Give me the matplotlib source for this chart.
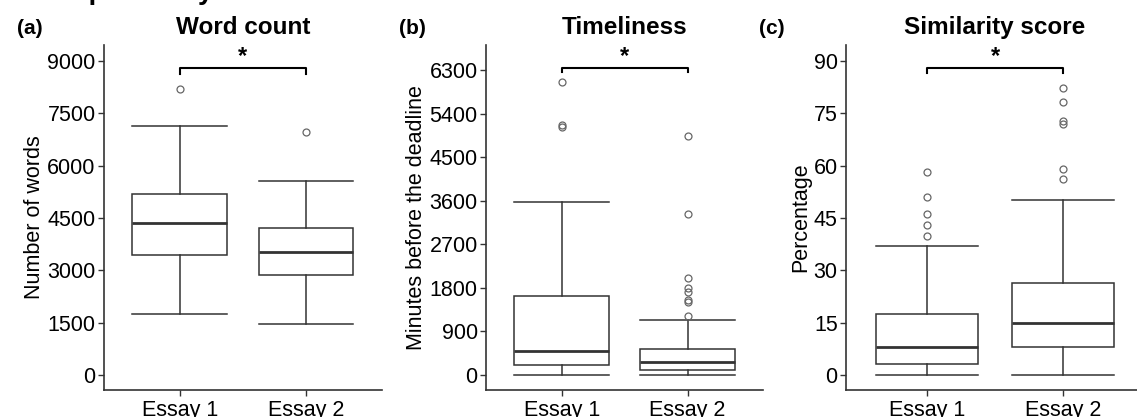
import matplotlib
matplotlib.use("Agg")
import matplotlib.pyplot as plt

plt.rcParams['font.family'] = ['Liberation Sans', 'DejaVu Sans']

groups = ["Essay 1", "Essay 2"]

# five-number summaries: low whisker, Q1, median, Q3, high whisker
words_stats = [[1750, 3450, 4350, 5190, 7140], [1450, 2860, 3520, 4220, 5550]]
words_fliers = [[8210], [6970]]

time_stats = [[0, 207, 496, 1632, 3580], [0, 103, 275, 543, 1136]]
time_fliers = [[5130, 5160, 6060], [1219, 1510, 1540, 1721, 1804, 2010, 3326, 4937]]

sim_stats = [[0, 3.2, 8.0, 17.4, 37.0], [0, 8.1, 15.0, 26.3, 50.1]]
sim_fliers = [[39.9, 43.0, 46.1, 50.9, 58.1], [56.1, 59.0, 72.0, 72.8, 78.2, 82.2]]

panels = [
    ("(a)", "Word count", "Number of words", words_stats, words_fliers,
     [0, 1500, 3000, 4500, 6000, 7500, 9000], (-430, 9460), (8629, 8800)),
    ("(b)", "Timeliness", "Minutes before the deadline", time_stats, time_fliers,
     [0, 900, 1800, 2700, 3600, 4500, 5400, 6300], (-310, 6816), (6250, 6345)),
    ("(c)", "Similarity score", "Percentage", sim_stats, sim_fliers,
     [0, 15, 30, 45, 60, 75, 90], (-4.3, 94.6), (86.6, 88.0)),
]

W, H = 1137, 417
fig = plt.figure(figsize=(W / 100, H / 100), dpi=100)

# axes boxes in pixels: left, right
lefts = [(104, 381.6), (486, 763.3), (846, 1144)]
top, bottom = 45, 390
edge = "#333333"

for (lab, title, ylab, stats, fliers, ticks, ylim, brk), (l, r) in zip(panels, lefts):
    ax = fig.add_axes([l / W, 1 - bottom / H, (r - l) / W, (bottom - top) / H])
    bxp_stats = []
    for s, f, g in zip(stats, fliers, groups):
        bxp_stats.append(dict(whislo=s[0], q1=s[1], med=s[2], q3=s[3], whishi=s[4],
                              fliers=f, label=g))
    ax.bxp(bxp_stats, positions=[1, 2], widths=0.75, patch_artist=True,
           boxprops=dict(facecolor="white", edgecolor=edge, linewidth=1.1),
           medianprops=dict(color=edge, linewidth=2.0),
           whiskerprops=dict(color=edge, linewidth=1.1),
           capprops=dict(color=edge, linewidth=1.1),
           capwidths=0.75,
           flierprops=dict(marker="o", markerfacecolor="none", markeredgecolor="#666666",
                           markersize=5, markeredgewidth=0.9))
    ax.set_xlim(0.4, 2.6)
    ax.set_ylim(*ylim)
    ax.set_yticks(ticks)
    ax.set_xticks([1, 2])
    ax.set_xticklabels(groups)
    for sp in ["top", "right"]:
        ax.spines[sp].set_visible(False)
    for sp in ["left", "bottom"]:
        ax.spines[sp].set_color(edge)
        ax.spines[sp].set_linewidth(1.2)
    ax.tick_params(axis="both", colors=edge, labelcolor="black", labelsize=15.5,
                   length=4, width=1.0)
    ax.tick_params(axis="x", pad=3)
    ax.tick_params(axis="y", pad=2)
    ax.set_ylabel(ylab, fontsize=15.5, labelpad=2)
    ax.set_title(title, fontsize=17.5, fontweight="bold", pad=8)

    # significance bracket
    lo, hi = brk
    ax.plot([1, 1, 2, 2], [lo, hi, hi, lo], color="black", linewidth=1.5, clip_on=False)
    ax.text(1.5, hi, "*", ha="center", va="bottom", fontsize=17, fontweight="bold")

    fig.text((l - 87) / W, 1 - 28 / H, lab, fontsize=15, fontweight="bold",
             ha="left", va="center")

# heading cut off at the top of the image
fig.text(30 / W, 1 + 1 / H, "Sample essay", fontsize=20, fontweight="bold",
         ha="left", va="baseline")

fig.savefig("out.png", dpi=100)
